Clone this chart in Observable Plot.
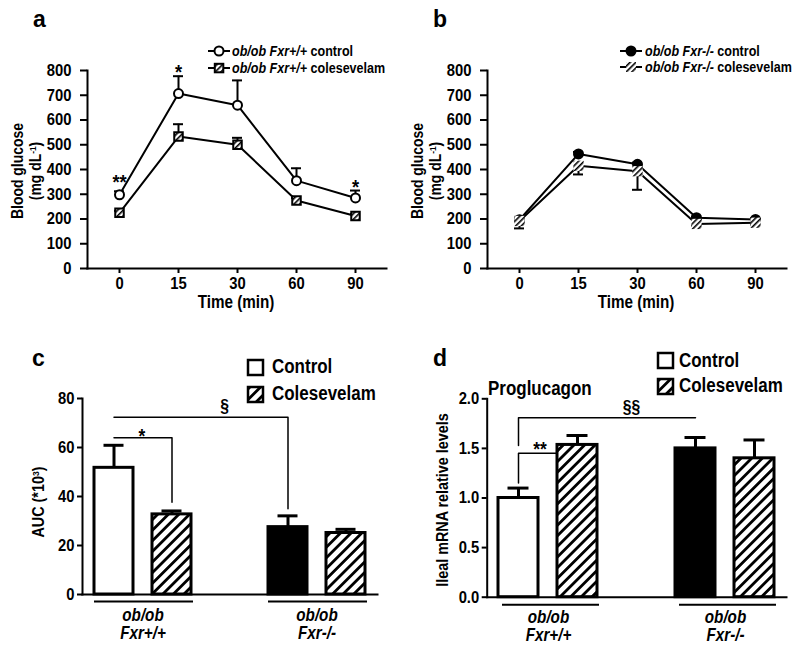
<!DOCTYPE html>
<html>
<head>
<meta charset="utf-8">
<script src="https://cdn.jsdelivr.net/npm/d3@7"></script>
<script src="https://cdn.jsdelivr.net/npm/@observablehq/plot@0.6"></script>
<style>
html,body{margin:0;padding:0;background:#fff;}
#root{position:relative;width:800px;height:647px;overflow:hidden;font-family:"Liberation Sans",Arial,Helvetica,sans-serif;font-weight:bold;color:#000;}
.panel{position:absolute;width:400px;}
.t{position:absolute;white-space:nowrap;line-height:1;}
.i{font-style:italic;}
sup{font-size:0.6em;line-height:0;vertical-align:0.55em;}
</style>
</head>
<body>
<svg width="0" height="0" style="position:absolute">
  <defs>
    <pattern id="hatch" patternUnits="userSpaceOnUse" width="7.5" height="7.5" patternTransform="rotate(45)">
      <rect width="7.5" height="7.5" fill="#fff"/>
      <rect width="2.8" height="7.5" fill="#000"/>
    </pattern>
    <pattern id="hatchS" patternUnits="userSpaceOnUse" width="4" height="4" patternTransform="rotate(45)">
      <rect width="4" height="4" fill="#fff"/>
      <rect width="1.6" height="4" fill="#000"/>
    </pattern>
  </defs>
</svg>
<div id="root">
  <div id="pa" class="panel" style="left:0;top:0"></div>
  <div id="pb" class="panel" style="left:400px;top:0"></div>
  <div id="pc" class="panel" style="left:0;top:320px"></div>
  <div id="pd" class="panel" style="left:400px;top:320px"></div>
</div>
<script>
// ---------------- data ----------------
const timePoints = ["0", "15", "30", "60", "90"];
const glucoseTicks = [0, 100, 200, 300, 400, 500, 600, 700, 800];

// panel a: ob/ob Fxr+/+
const wtControlMean = [298, 707, 660, 355, 285];
const wtControlSem  = [14, 70, 100, 50, 30];
const wtColesMean   = [225, 533, 500, 275, 212];
const wtColesSem    = [8, 50, 28, 10, 8];
const sigLabelsA    = ["**", "*", "*"];
const sigTimesA     = ["0", "15", "90"];
const sigValuesA    = [349, 792, 330];

// panel b: ob/ob Fxr-/-
const koControlMean = [197, 463, 421, 205, 198];
const koControlSem  = [6, 8, 7, 5, 5];
const koColesMean   = [192, 415, 393, 180, 185];
const koColesSem    = [30, 35, 75, 8, 10];

// panels c, d: bars
const barKeys   = ["wtControl", "wtColes", "koControl", "koColes"];
const barSlots  = ["wtControl", "wtColes", "gap", "koControl", "koColes"];
const aucMean   = [51.7, 32.7, 27.5, 25.1];
const aucSem    = [9.2, 1.4, 4.6, 1.5];
const aucTicks  = [0, 20, 40, 60, 80];
const mrnaMean  = [1.0, 1.535, 1.50, 1.40];
const mrnaSem   = [0.10, 0.095, 0.11, 0.185];
const mrnaTicks = [0, 0.5, 1.0, 1.5, 2.0];

// significance brackets (in data units)
const bracketStarC = [["wtControl", 64], ["wtColes", 64], ["wtColes", 37.7]];
const bracketSecC  = [["wtControl", 72.3], ["koControl", 72.3], ["koControl", 35]];
const bracketStarD = [["wtControl", 1.15], ["wtControl", 1.45], ["wtColes", 1.45]];
const bracketSecD  = [["wtControl", 1.53], ["wtControl", 1.81], ["koControl", 1.81]];
const sigC = [{key: "wtControl", label: "*", v: 64.4}, {key: "wtColes", label: "§", v: 76.7}];
const sigD = [{key: "wtControl", label: "**", v: 1.484}, {key: "wtColes", label: "§§", v: 1.912}];
const groupLabels = [
  {x1: "wtControl", x2: "wtColes", label: "ob/ob\nFxr+/+"},
  {x1: "koControl", x2: "koColes", label: "ob/ob\nFxr-/-"}
];

// ---------------- styling ----------------
const K = 0.87; // horizontal condensation of the lettering
const FONT = '"Liberation Sans", Arial, Helvetica, sans-serif';
const baseStyle = {fontFamily: FONT, fontSize: "17px", fontWeight: "bold", background: "transparent", overflow: "visible", color: "#000"};
const fillOf = {wtControl: "#fff", wtColes: "url(#hatch)", koControl: "#000", koColes: "url(#hatch)"};

function condense(svg) {
  svg.querySelectorAll("text").forEach(t => {
    const tr = t.getAttribute("transform") || "";
    t.setAttribute("transform", `${tr} scale(${K},1)`);
  });
  return svg;
}

// ---------------- time-course panels ----------------
function timeRows(cm, cs, km, ks, colesDown) {
  return timePoints.map((t, i) => ({
    time: t,
    ctrl: cm[i], ctrlErr: cm[i] + cs[i],
    coles: km[i], colesErr: colesDown ? km[i] - ks[i] : km[i] + ks[i]
  }));
}
function timeChart(rows, opts) {
  return condense(Plot.plot({
    width: 400, height: 320,
    marginLeft: 87, marginRight: 14, marginTop: 70, marginBottom: 52,
    style: baseStyle,
    x: {type: "point", domain: timePoints, padding: 0.5},
    y: {domain: [0, 800]},
    marks: [
      Plot.axisY({ticks: glucoseTicks, tickSize: 7, tickPadding: 9, label: null, strokeWidth: 2}),
      Plot.axisX({tickSize: 5, tickPadding: 3, label: null, strokeWidth: 2}),
      Plot.ruleX(rows, {x: "time", y1: "ctrl", y2: "ctrlErr", strokeWidth: 2}),
      Plot.ruleY(rows, {x1: "time", x2: "time", y: "ctrlErr", insetLeft: -5, insetRight: -5, strokeWidth: 2}),
      Plot.ruleX(rows, {x: "time", y1: "coles", y2: "colesErr", strokeWidth: 2}),
      Plot.ruleY(rows, {x1: "time", x2: "time", y: "colesErr", insetLeft: -5, insetRight: -5, strokeWidth: 2}),
      Plot.line(rows, {x: "time", y: "ctrl", strokeWidth: 2}),
      Plot.line(rows, {x: "time", y: "coles", strokeWidth: 2}),
      Plot.dot(rows, {x: "time", y: "ctrl", r: 4.5, fill: opts.ctrlFill, stroke: "#000", strokeWidth: 2}),
      Plot.dot(rows, {x: "time", y: "coles", symbol: "square", r: opts.colesR, fill: "url(#hatchS)", stroke: opts.colesStroke, strokeWidth: 2}),
      Plot.frame({anchor: "left", strokeWidth: 2}),
      Plot.frame({anchor: "bottom", strokeWidth: 2}),
      Plot.text(opts.sig, {x: "time", y: "v", text: "label", fontSize: 21})
    ]
  }));
}
const sigA = sigLabelsA.map((l, i) => ({label: l, time: sigTimesA[i], v: sigValuesA[i]}));
document.getElementById("pa").append(timeChart(
  timeRows(wtControlMean, wtControlSem, wtColesMean, wtColesSem, false),
  {ctrlFill: "#fff", colesStroke: "#000", colesR: 4.8, sig: sigA}));
document.getElementById("pb").append(timeChart(
  timeRows(koControlMean, koControlSem, koColesMean, koColesSem, true),
  {ctrlFill: "#000", colesStroke: "none", colesR: 5.8, sig: []}));

// ---------------- bar panels ----------------
function barChart(mean, sem, ticks, yMax, opts) {
  const bars = barKeys.map((k, i) => ({key: k, value: mean[i], hi: mean[i] + sem[i], fill: fillOf[k]}));
  const toPts = (b) => b.map(([k, v]) => ({key: k, v}));
  return condense(Plot.plot({
    width: 400, height: 327,
    marginLeft: opts.ml, marginRight: opts.mr, marginTop: opts.mt, marginBottom: opts.mb,
    style: baseStyle,
    x: {type: "band", domain: barSlots, paddingInner: opts.pi, paddingOuter: opts.po, axis: null},
    y: {domain: [0, yMax]},
    color: {type: "identity"},
    marks: [
      Plot.axisY({ticks, tickSize: 5, tickPadding: opts.tp, label: null, strokeWidth: 2, tickFormat: opts.fmt}),
      Plot.line(toPts(opts.b1), {x: "key", y: "v", strokeWidth: 1.5}),
      Plot.line(toPts(opts.b2), {x: "key", y: "v", strokeWidth: 1.5}),
      Plot.ruleX(bars, {x: "key", y1: "value", y2: "hi", strokeWidth: 3}),
      Plot.tickY(bars, {x: "key", y: "hi", insetLeft: 9.5, insetRight: 9.5, strokeWidth: 3}),
      Plot.barY(bars, {x: "key", y: "value", fill: "fill", stroke: "#000", strokeWidth: 3}),
      Plot.frame({anchor: "left", strokeWidth: 2}),
      Plot.frame({anchor: "bottom", strokeWidth: 2}),
      ...opts.sig.map((s, i) => Plot.text([s], {x: "key", y: "v", text: "label",
        fontSize: s.label.startsWith("§") ? 18 : 20, dx: opts.sigDx[i]})),
      Plot.ruleY(groupLabels, {x1: "x1", x2: "x2", y: () => 0, dy: opts.gdy, strokeWidth: 2, insetLeft: opts.gil, insetRight: -2}),
      Plot.text(groupLabels, {x: "x1", text: "label", frameAnchor: "bottom", lineAnchor: "top", dx: opts.gdx, dy: opts.gty, fontSize: 17.5, fontStyle: "italic", lineHeight: 1.03})
    ]
  }));
}
document.getElementById("pc").append(barChart(aucMean, aucSem, aucTicks, 80, {
  ml: 82, mr: 23, mt: 78, mb: 53, pi: 0.32, po: 0.19, tp: 3, fmt: d => d,
  b1: bracketStarC, b2: bracketSecC,
  sig: sigC, sigDx: [28, 52.5],
  gdy: 7, gil: 0, gdx: 29, gty: 13.5
}));
document.getElementById("pd").append(barChart(mrnaMean, mrnaSem, mrnaTicks, 2, {
  ml: 86.7, mr: 14, mt: 78.3, mb: 50.3, pi: 0.317, po: 0.155, tp: 3, fmt: d3.format(".1f"),
  b1: bracketStarD, b2: bracketSecD,
  sig: sigD, sigDx: [21.5, 54],
  gdy: 7.6, gil: 4, gdx: 30, gty: 12.5
}));

// ---------------- text overlays (titles, legends) ----------------
const root = document.getElementById("root");
function txt(html, x, baseline, size, center, k = K) {
  const d = document.createElement("div");
  d.className = "t";
  d.innerHTML = html;
  d.style.fontSize = size + "px";
  d.style.top = (baseline - 0.8465 * size) + "px";
  d.style.left = x + "px";
  if (center) { d.style.transform = `translateX(-50%) scaleX(${k})`; }
  else { d.style.transformOrigin = "left center"; d.style.transform = `scaleX(${k})`; }
  root.appendChild(d);
}
function vtxt(html, cx, cy, size, lines, lh) {
  const d = document.createElement("div");
  d.className = "t";
  d.innerHTML = html;
  const h = lines * lh;
  d.style.cssText += `font-size:${size}px;line-height:${lh}px;text-align:center;width:300px;height:${h}px;left:${cx - 150}px;top:${cy - h / 2}px;transform:rotate(-90deg) scaleX(${K});`;
  root.appendChild(d);
}
function marker(x, y, w, h, inner) {
  const s = document.createElementNS("http://www.w3.org/2000/svg", "svg");
  s.setAttribute("width", w); s.setAttribute("height", h);
  s.style.position = "absolute"; s.style.left = x + "px"; s.style.top = y + "px"; s.style.overflow = "visible";
  s.innerHTML = inner;
  root.appendChild(s);
}
// panel letters
txt("a", 33, 27, 23, false, 1); txt("b", 433, 27, 23, false, 1);
txt("c", 32, 366.7, 23, false, 1); txt("d", 433, 366.7, 23, false, 1);
// y titles
vtxt("Blood glucose<br>(mg dL<sup>-1</sup>)", 27, 171, 16, 2, 18);
vtxt("Blood glucose<br>(mg dL<sup>-1</sup>)", 427, 171, 16, 2, 18);
vtxt("AUC (*10<sup>3</sup>)", 38, 502, 16.5, 1, 18);
vtxt("Ileal mRNA relative levels", 441.7, 500, 16.5, 1, 18);
// x titles
txt("Time (min)", 236, 308.5, 17.5, true);
txt("Time (min)", 636, 308.5, 17.5, true);
// legend a
marker(208, 44, 22, 14, '<line x1="0" y1="7" x2="22" y2="7" stroke="#000" stroke-width="2"/><circle cx="11" cy="7" r="4.5" fill="#fff" stroke="#000" stroke-width="2"/>');
marker(208, 61, 22, 14, '<line x1="0" y1="7" x2="22" y2="7" stroke="#000" stroke-width="2"/><rect x="6.8" y="2.8" width="8.5" height="8.5" fill="url(#hatchS)" stroke="#000" stroke-width="2"/>');
txt('<span class="i">ob/ob Fxr+/+</span> control', 232, 56.2, 14.4);
txt('<span class="i">ob/ob Fxr+/+</span> colesevelam', 232, 73.2, 14.4);
// legend b
marker(620, 44, 22, 14, '<line x1="0" y1="7" x2="22" y2="7" stroke="#000" stroke-width="2"/><circle cx="11" cy="7" r="4.5" fill="#000" stroke="#000" stroke-width="2"/>');
marker(620, 60, 22, 14, '<line x1="0" y1="7" x2="22" y2="7" stroke="#000" stroke-width="2"/><rect x="6" y="2" width="10" height="10" fill="url(#hatchS)"/>');
txt('<span class="i">ob/ob Fxr-/-</span> control', 645, 56.2, 14.4);
txt('<span class="i">ob/ob Fxr-/-</span> colesevelam', 645, 72.2, 14.4);
// legend c
marker(248, 360, 15, 15, '<rect x="0" y="0" width="15" height="15" fill="#fff" stroke="#000" stroke-width="2.5"/>');
marker(248, 386.5, 15, 15, '<rect x="0" y="0" width="15" height="15" fill="url(#hatch)" stroke="#000" stroke-width="2.5"/>');
txt("Control", 272, 374, 19.5);
txt("Colesevelam", 272, 401, 19.5);
// legend d
marker(658, 353, 15, 15, '<rect x="0" y="0" width="15" height="15" fill="#fff" stroke="#000" stroke-width="2.5"/>');
marker(658, 379, 15, 15, '<rect x="0" y="0" width="15" height="15" fill="url(#hatch)" stroke="#000" stroke-width="2.5"/>');
txt("Control", 679, 367.5, 19.5);
txt("Colesevelam", 679, 393, 19.5);
// panel d title
txt("Proglucagon", 488, 396, 19.5);
</script>
</body>
</html>
